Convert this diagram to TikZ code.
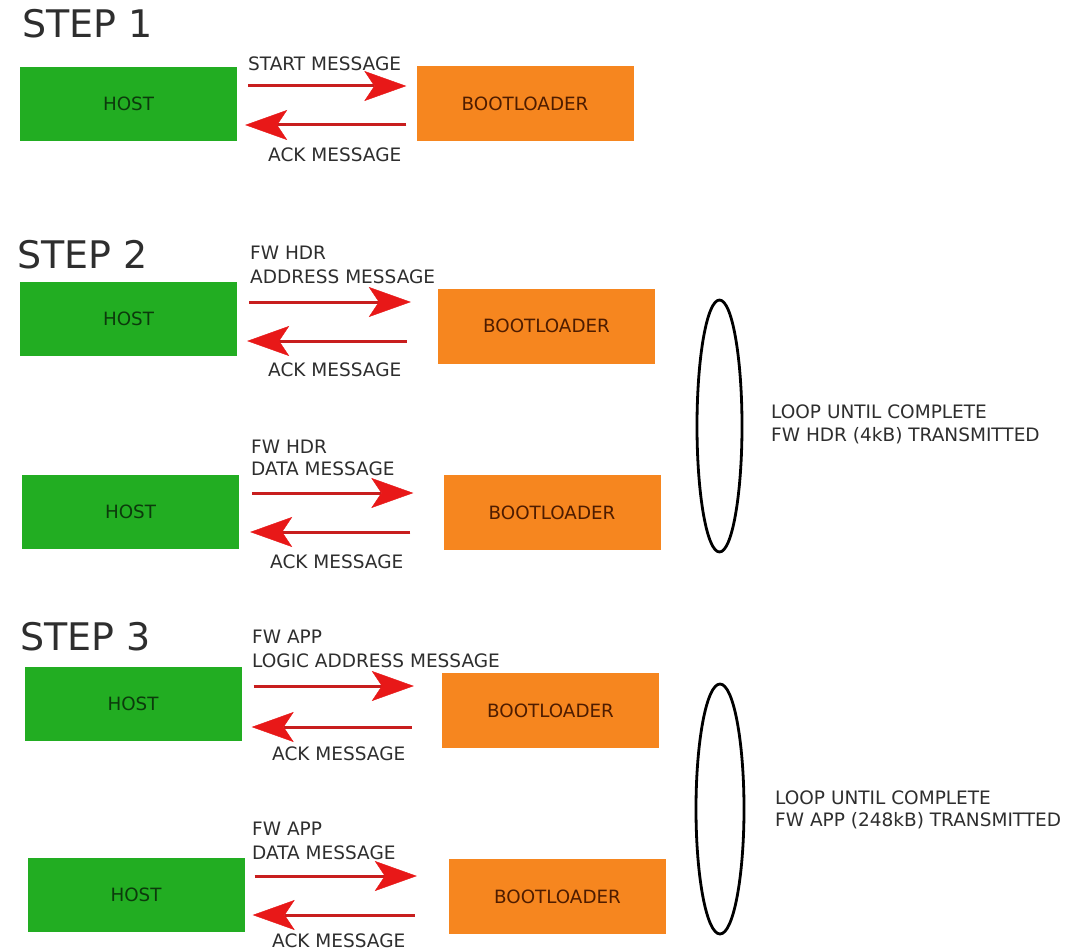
\documentclass[tikz,border=0pt]{standalone}
\usepackage{fontspec}
\newfontfamily\lblfont{DejaVu Sans}
\newfontfamily\headfont{DejaVu Sans}
\usetikzlibrary{arrows.meta,shapes.geometric}

\definecolor{hostgreen}{HTML}{22AD22}
\definecolor{hosttext}{HTML}{0C3A0C}
\definecolor{bootorange}{HTML}{F6861F}
\definecolor{boottext}{HTML}{4E1C00}
\definecolor{msggray}{HTML}{2E2E2E}
\definecolor{linered}{HTML}{C81E1E}
\definecolor{tipred}{HTML}{E81818}

\tikzset{
  hostbox/.style={rectangle, fill=hostgreen, inner sep=0pt,
    minimum width=217pt, minimum height=74pt, text=hosttext,
    font=\lblfont\fontsize{18.3}{21}\selectfont},
  bootbox/.style={rectangle, fill=bootorange, inner sep=0pt,
    minimum width=217pt, minimum height=75pt, text=boottext,
    font=\lblfont\fontsize{18.3}{21}\selectfont},
  msg/.style={anchor=base west, inner sep=0pt, text=msggray,
    font=\lblfont\fontsize{18.5}{21}\selectfont},
  steplabel/.style={anchor=base west, inner sep=0pt, text=msggray,
    font=\headfont\fontsize{38}{41}\selectfont},
  msgarrow/.style={draw=linered, line width=3pt,
    -{Stealth[length=42pt, width=30pt, inset=10pt, line width=0.4pt, color=tipred]}},
  loopring/.style={draw=black, line width=2.8pt, ellipse, inner sep=0pt}
}

\begin{document}
\begin{tikzpicture}[x=1pt, y=-1pt]
\useasboundingbox (0,0) rectangle (1076,952);
\fill[white] (0,0) rectangle (1076,952);

% ---------------- STEP 1 ----------------
\node[steplabel] (s1) at (22,38) {STEP 1};
\node[hostbox] (h1) at (128.5,104) {HOST};
\node[bootbox] (b1) at (525,103.5) {BOOTLOADER};
\node[msg] (m1) at (248,71) {START MESSAGE};
\node[msg] (k1) at (268,162) {ACK MESSAGE};
\coordinate (f1) at ([yshift=18pt]h1.east);
\coordinate (r1) at ([yshift=-21.5pt]b1.west);
\draw[msgarrow, shorten <=11pt, shorten >=10pt] (f1) -- (f1 -| b1.west);
\draw[msgarrow, shorten <=10pt, shorten >=8pt] (r1) -- (r1 -| h1.east);

% ---------------- STEP 2 ----------------
\node[steplabel] (s2) at (17,268) {STEP 2};
\node[hostbox] (h2) at (128.5,319) {HOST};
\node[bootbox] (b2) at (546.5,326) {BOOTLOADER};
\node[msg] (m2a) at (250,259) {FW HDR};
\node[msg] (m2b) at (250,283) {ADDRESS MESSAGE};
\node[msg] (k2) at (268,376) {ACK MESSAGE};
\coordinate (f2) at ([yshift=17pt]h2.east);
\coordinate (r2) at ([yshift=-15pt]b2.west);
\draw[msgarrow, shorten <=12pt, shorten >=27pt] (f2) -- (f2 -| b2.west);
\draw[msgarrow, shorten <=31pt, shorten >=10pt] (r2) -- (r2 -| h2.east);

\node[hostbox] (h3) at (130.5,511.5) {HOST};
\node[bootbox] (b3) at (552,512.5) {BOOTLOADER};
\node[msg] (m3a) at (251,453) {FW HDR};
\node[msg] (m3b) at (251,475) {DATA MESSAGE};
\node[msg] (k3) at (270,568) {ACK MESSAGE};
\coordinate (f3) at ([yshift=18.5pt]h3.east);
\coordinate (r3) at ([yshift=-19.5pt]b3.west);
\draw[msgarrow, shorten <=13pt, shorten >=30pt] (f3) -- (f3 -| b3.west);
\draw[msgarrow, shorten <=33pt, shorten >=11pt] (r3) -- (r3 -| h3.east);

\node[loopring, minimum width=45pt, minimum height=252pt] (loop1) at (719.5,426) {};
\node[msg] (l1a) at (771,418) {LOOP UNTIL COMPLETE};
\node[msg] (l1b) at (771,441) {FW HDR (4kB) TRANSMITTED};

% ---------------- STEP 3 ----------------
\node[steplabel] (s3) at (20,650) {STEP 3};
\node[hostbox] (h4) at (133,703.5) {HOST};
\node[bootbox] (b4) at (550.5,710.5) {BOOTLOADER};
\node[msg] (m4a) at (252,643) {FW APP};
\node[msg] (m4b) at (252,667) {LOGIC ADDRESS MESSAGE};
\node[msg] (k4) at (272,760) {ACK MESSAGE};
\coordinate (f4) at ([yshift=17.5pt]h4.east);
\coordinate (r4) at ([yshift=-16.5pt]b4.west);
\draw[msgarrow, shorten <=12pt, shorten >=28pt] (f4) -- (f4 -| b4.west);
\draw[msgarrow, shorten <=30pt, shorten >=10pt] (r4) -- (r4 -| h4.east);

\node[hostbox] (h5) at (136,895) {HOST};
\node[bootbox] (b5) at (557.5,896.5) {BOOTLOADER};
\node[msg] (m5a) at (252,835) {FW APP};
\node[msg] (m5b) at (252,859) {DATA MESSAGE};
\node[msg] (k5) at (272,947.5) {ACK MESSAGE};
\coordinate (f5) at ([yshift=19pt]h5.east);
\coordinate (r5) at ([yshift=-18.5pt]b5.west);
\draw[msgarrow, shorten <=10pt, shorten >=32pt] (f5) -- (f5 -| b5.west);
\draw[msgarrow, shorten <=34pt, shorten >=8pt] (r5) -- (r5 -| h5.east);

\node[loopring, minimum width=48pt, minimum height=250pt] (loop2) at (720,809) {};
\node[msg] (l2a) at (775,804) {LOOP UNTIL COMPLETE};
\node[msg] (l2b) at (775,826) {FW APP (248kB) TRANSMITTED};
\end{tikzpicture}
\end{document}
